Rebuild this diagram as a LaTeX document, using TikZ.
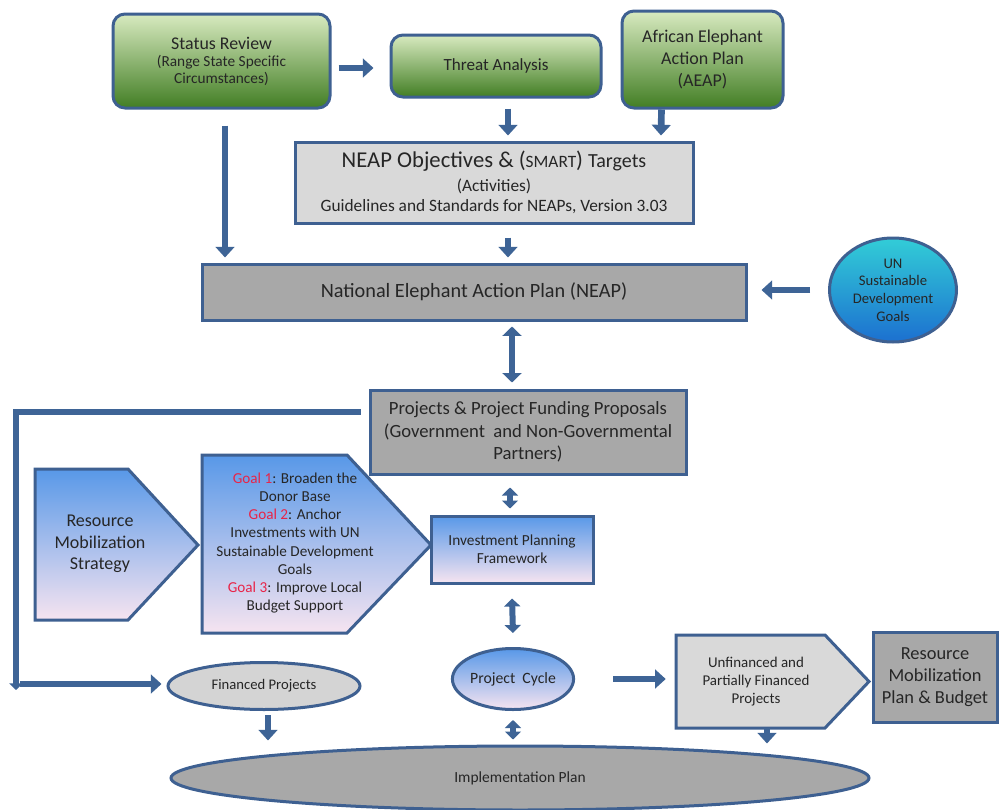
\documentclass[tikz,border=0pt]{standalone}
\usepackage{fontspec}
\setmainfont{Carlito}
\usetikzlibrary{arrows.meta,shapes.geometric,calc}
\definecolor{bord}{RGB}{62,96,145}
\definecolor{arr}{RGB}{62,100,150}
\definecolor{gtop}{RGB}{216,234,192}
\definecolor{gbot}{RGB}{66,126,36}
\definecolor{btop}{RGB}{88,152,232}
\definecolor{bbot}{RGB}{246,228,240}
\definecolor{untop}{RGB}{50,205,215}
\definecolor{unbot}{RGB}{28,112,208}
\definecolor{lgray}{RGB}{217,217,217}
\definecolor{mgray}{RGB}{168,168,168}
\definecolor{fgray}{RGB}{212,212,212}
\definecolor{txt}{RGB}{38,38,38}
\definecolor{goalred}{RGB}{232,36,72}
\newlength\pxl
\setlength\pxl{0.75pt}
\newcommand\fs[1]{\fontsize{#1}{1.2\dimexpr#1pt\relax}\selectfont}
\tikzset{
  box/.style={draw=bord, line width=2.25pt, align=center, inner sep=2pt, text=txt},
  greenbox/.style={box, rounded corners=9pt, top color=gtop, bottom color=gbot},
  graybox/.style={box, fill=#1},
  blueshade/.style={top color=btop, bottom color=bbot},
  txtnode/.style={align=center, text=txt, inner sep=0pt},
  barrow/.style={draw=arr, line width=5pt, -{Triangle[width=14pt,length=8pt]}},
  dbarrow/.style={draw=arr, line width=4.5pt, {Triangle[width=12pt,length=6pt]}-{Triangle[width=12pt,length=6pt]}},
}
\begin{document}
\begin{tikzpicture}[x=0.75pt,y=-0.75pt]
\useasboundingbox[fill=white] (0,0) rectangle (1000,810);

% top row
\node[greenbox, minimum width=217\pxl, minimum height=94\pxl, font=\fs{11.5}] (sr) at (221.5,61)
  {\fs{13.4}Status Review\\[-1pt](Range State Specific\\[-1pt]Circumstances)};
\node[greenbox, minimum width=210\pxl, minimum height=62\pxl, font=\fs{12.8}] (ta) at (496,66)
  {Threat Analysis};
\node[greenbox, minimum width=161\pxl, minimum height=97\pxl, font=\fs{13.5}] (aeap) at (702.5,59.5)
  {African Elephant\\Action Plan\\(AEAP)};

% objectives
\node[graybox=lgray, minimum width=398\pxl, minimum height=81\pxl, font=\fs{13}] (obj) at (494,182.5)
  {\fs{17}NEAP Objectives \& (\fs{13}SMART\fs{17}) \fs{15}Targets\\[2pt]
   (Activities)\\Guidelines and Standards for NEAPs, Version 3.03};

% NEAP
\node[graybox=mgray, minimum width=544\pxl, minimum height=56\pxl, font=\fs{15.2}] (neap) at (474,292)
  {National Elephant Action Plan (NEAP)};

% UN goals
\node[ellipse, draw=bord, line width=2.25pt, top color=untop, bottom color=unbot,
      minimum width=127\pxl, minimum height=104\pxl, align=center, text=txt, inner sep=0pt,
      font=\fs{11}] (un) at (893,290)
  {UN\\Sustainable\\Development\\Goals};

% Projects
\node[graybox=mgray, minimum width=316\pxl, minimum height=84\pxl, font=\fs{14}] (proj) at (528,432)
  {Projects \& Project Funding Proposals\\(Government\ \ and Non-Governmental\\Partners)};

% Resource Mobilization Strategy pentagon
\filldraw[draw=bord, line width=2.25pt, blueshade, line join=miter]
  (35,469) -- (128,469) -- (198,545) -- (128,620) -- (35,620) -- cycle;
\node[txtnode, minimum width=130\pxl, font=\fs{13.5}] (rms) at (100,544)
  {Resource\\Mobilization\\Strategy};

% Goals pentagon
\filldraw[draw=bord, line width=2.25pt, blueshade, line join=miter]
  (202,455) -- (347,455) -- (431,545) -- (347,633) -- (202,633) -- cycle;
\node[txtnode, font=\fs{11.4}] (goals) at (295,543)
  {\textcolor{goalred}{Goal 1}: Broaden the\\Donor Base\\
   \textcolor{goalred}{Goal 2}: Anchor\\Investments with UN\\Sustainable Development\\Goals\\
   \textcolor{goalred}{Goal 3}: Improve Local\\Budget Support};

% Investment Planning Framework
\node[box, blueshade, minimum width=162\pxl, minimum height=67\pxl, font=\fs{11.5}] (ipf) at (512,549.5)
  {Investment Planning\\Framework};

% Project cycle
\node[ellipse, draw=bord, line width=2.25pt, blueshade, minimum width=114\pxl, minimum height=61\pxl,
      text=txt, inner sep=0pt, font=\fs{11.8}] (pc) at (513,679) {Project\ \ Cycle};

% Unfinanced pentagon
\filldraw[draw=bord, line width=2.25pt, fill=lgray, line join=miter]
  (676,635) -- (825,635) -- (869,681.5) -- (825,728) -- (676,728) -- cycle;
\node[txtnode, minimum width=160\pxl, minimum height=93\pxl, font=\fs{11.2}] (unf) at (756,681.5)
  {Unfinanced and\\Partially Financed\\Projects};

% Resource Mobilization Plan & Budget
\node[graybox=mgray, minimum width=124\pxl, minimum height=90\pxl, font=\fs{13.8}] (rmp) at (935,677)
  {Resource\\Mobilization\\Plan \& Budget};

% Financed projects
\node[ellipse, draw=bord, line width=2.25pt, fill=fgray, minimum width=192\pxl, minimum height=47\pxl,
      text=txt, inner sep=0pt, font=\fs{11}] (fin) at (264,686) {Financed Projects};

% Implementation plan
\node[ellipse, draw=bord, line width=2.25pt, fill=mgray, minimum width=698\pxl, minimum height=64\pxl,
      text=txt, inner sep=0pt, font=\fs{11.6}] (impl) at (520,778) {Implementation Plan};

% connectors
\coordinate (corner) at (16,412);
\draw[barrow] ($(sr.east |- ta.west)+(7,2)$) -- ($(ta.west)+(-16,2)$);
\draw[barrow] ($(ta.south)+(12,10)$) -- ($(obj.north)+(14,-5)$);
\draw[barrow] ($(aeap.south)+(-41,0)$) -- ($(obj.north)+(167,-5)$);
\draw[barrow] ($(sr.south)+(3.5,16)$) -- ($(neap.north)+(-249,-5)$);
\draw[barrow] ($(obj.south)+(14,13)$) -- ($(neap.north)+(34,-5)$);
\draw[barrow] ($(un.west)+(-18,0)$) -- ($(neap.east)+(14,-2)$);
\draw[draw=arr, line width=5pt, {Triangle[width=14pt,length=7pt]}-{Triangle[width=14pt,length=7pt]}]
  ($(neap.south)+(38,5)$) -- ($(proj.north)+(-16,-6)$);
\draw[draw=arr, line width=5pt, line join=miter, -{Triangle[width=10pt,length=5pt]}]
  ($(proj.west)+(-8,-20)$) -- (corner) -- ($(corner |- fin.west)+(0,4)$);
\draw[barrow] ($(corner |- fin.west)+(4,-2)$) -- ($(fin.west)+(-5,-2)$);
\draw[dbarrow] ($(proj.south)+(-18,12)$) -- ($(ipf.north)+(-2,-6)$);
\draw[dbarrow] ($(ipf.south)+(0,14)$) -- ($(pc.north)+(0,-14)$);
\draw[barrow] ($(pc.east)+(38,0)$) -- ($(unf.west)+(-10,-2.5)$);
\draw[barrow] ($(fin.south)+(4,4)$) -- ($(impl.north)+(-252,-4)$);
\draw[dbarrow] ($(pc.south)+(0,9)$) -- ($(impl.north)+(-7,-5)$);
\draw[barrow] ($(unf.south)+(11,0)$) -- ($(impl.north)+(247,-1)$);
\end{tikzpicture}
\end{document}
